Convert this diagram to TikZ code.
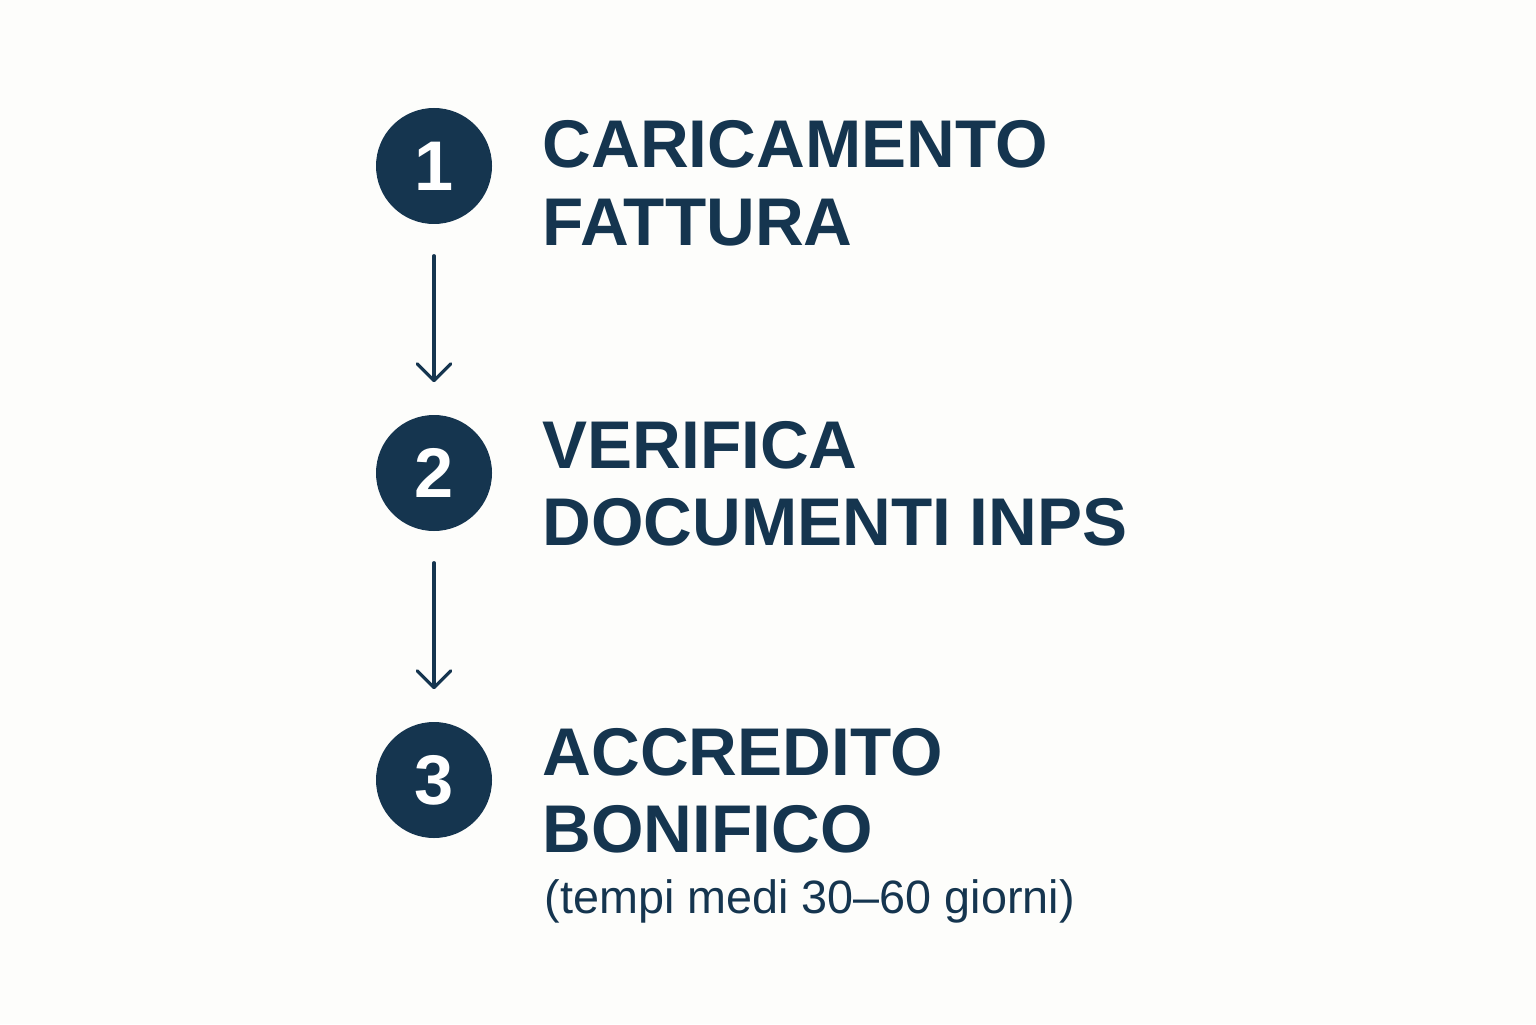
\documentclass[tikz,border=0pt]{standalone}
\usepackage{fontspec}
\setmainfont{Liberation Sans}
\usetikzlibrary{arrows.meta}
\definecolor{navy}{HTML}{15354F}
\definecolor{paper}{HTML}{FDFDFB}

\tikzset{
  num/.style={circle, fill=navy, minimum size=1.16cm, inner sep=0pt,
    text=white, font=\fontsize{20}{20}\selectfont\bfseries},
  title/.style={anchor=base west, inner sep=0pt, text=navy,
    font=\fontsize{19.2}{22}\selectfont\bfseries},
  note/.style={anchor=base west, inner sep=0pt, text=navy,
    font=\fontsize{13.3}{16}\selectfont},
  flow/.style={draw=navy, line width=0.9pt, line cap=round,
    -{Straight Barb[length=4.8pt,width=9.6pt,line width=0.9pt,round]}}
}

\begin{document}
\begin{tikzpicture}
\fill[paper] (0,0) rectangle (15.36,10.24);
\useasboundingbox (0,0) rectangle (15.36,10.24);
\node[num] (c1) at (4.34,8.58) {1};
\node[num] (c2) at (4.34,5.51) {2};
\node[num] (c3) at (4.34,2.44) {3};
\node[title] (t1a) at (5.42,8.56) {CARICAMENTO};
\node[title] (t1b) at (5.42,7.79) {FATTURA};
\node[title] (t2a) at (5.42,5.56) {VERIFICA};
\node[title] (t2b) at (5.42,4.79) {DOCUMENTI INPS};
\node[title] (t3a) at (5.42,2.49) {ACCREDITO};
\node[title] (t3b) at (5.42,1.72) {BONIFICO};
\node[note] (t3c) at (5.44,1.11) {(tempi medi 30–60 giorni)};
\draw[flow, shorten <=0.31cm, shorten >=0.32cm] (c1) -- (c2);
\draw[flow, shorten <=0.31cm, shorten >=0.32cm] (c2) -- (c3);
\end{tikzpicture}
\end{document}
